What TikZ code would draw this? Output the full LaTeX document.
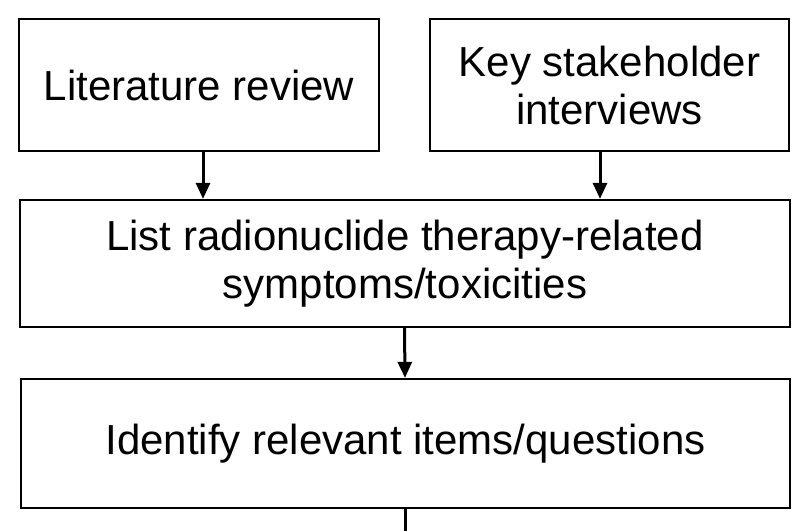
\documentclass[tikz,border=0pt]{standalone}
\usepackage{fontspec}
\setmainfont{Liberation Sans}
\usetikzlibrary{arrows.meta}
\begin{document}
\begin{tikzpicture}[x=1pt,y=-1pt,
  box/.style={draw, line width=2.3pt, align=center, inner sep=0pt, font=\fontsize{42}{48}\selectfont},
  arr/.style={-{Triangle[length=16pt,width=14pt]}, line width=3pt}]
\useasboundingbox[fill=white] (0,0) rectangle (800,530);
\node[box, minimum width=359.5pt, minimum height=132pt] (lit) at (199,85) {Literature review};
\node[box, minimum width=359pt, minimum height=132pt] (key) at (609.5,85) {Key stakeholder\\interviews};
\node[box, minimum width=770pt, minimum height=127pt] (list) at (405,263.5) {List radionuclide therapy-related\\symptoms/toxicities};
\node[box, minimum width=769pt, minimum height=129pt] (ident) at (405.5,443.5) {Identify relevant items/questions};
\coordinate (out) at (405,531);
\draw[arr] ([xshift=4pt]lit.south) -- ([xshift=4pt]lit.south |- list.north);
\draw[arr] ([xshift=-9.5pt]key.south) -- ([xshift=-9.5pt]key.south |- list.north);
\draw[arr] ([xshift=-0.5pt]list.south |- list.south) -- (list.south |- ident.north);
\draw[line width=3pt] (ident.south -| out) -- (out);
\end{tikzpicture}
\end{document}
